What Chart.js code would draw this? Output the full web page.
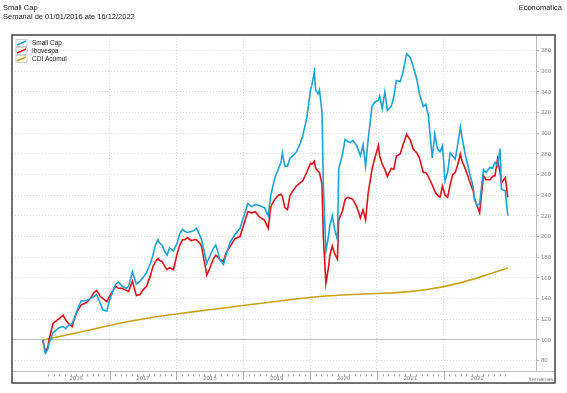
<!DOCTYPE html>
<html>
<head>
<meta charset="utf-8">
<script src="https://cdn.jsdelivr.net/npm/chart.js@4.4.0/dist/chart.umd.min.js"></script>
<style>
  html, body { margin: 0; padding: 0; background: #fff; }
  #wrap { width: 567px; height: 393px; }
</style>
</head>
<body>
<div id="wrap"><canvas id="myChart" width="567" height="393"></canvas></div>
<script>
// semanas desde 01/01/2016
const weeks = [0, 2, 4, 5, 8, 11, 13, 16, 18, 20, 23, 25, 27, 30, 34, 37, 40, 42, 45, 47, 50,
  52, 55, 57, 59, 62, 65, 67, 70, 73, 76, 78, 81, 84, 86, 88, 90, 91, 93, 95, 97, 99, 102,
  105, 107, 109, 111, 113, 116, 118, 120, 123, 124, 127, 128, 130, 133, 135, 137, 138, 141, 143, 146, 150, 154,
  157, 160, 163, 166, 169, 173, 176, 178, 181, 184, 186, 187, 189, 191, 193, 195, 198, 201, 203, 206,
  209, 210, 212, 213, 215, 216, 218, 219, 221, 223, 224, 226, 228, 230, 231, 234, 236, 238, 240, 242,
  245, 248, 250, 252, 254, 257, 259, 262, 263, 265, 267, 269, 272, 274, 276, 279, 281, 284, 287, 289,
  292, 294, 297, 299, 301, 304, 306, 308, 310, 312, 314, 316, 318, 320, 322, 324, 326, 327, 330, 332,
  333, 336, 337, 339, 341, 344, 346, 349, 351, 353, 355, 357, 358, 361, 363];

const smallCap = [100, 87, 91, 97, 107, 110, 112, 113, 111, 114, 116, 122, 129, 138, 138, 140, 142, 144, 135, 129, 128,
  138, 148, 154, 156, 152, 150, 152, 166, 154, 157, 160, 165, 174, 182, 192, 197, 194, 192, 186, 182, 189, 186,
  194, 203, 207, 205, 204, 205, 206, 208, 200, 197, 180, 174, 180, 188, 192, 184, 178, 173, 182, 194, 202, 208,
  220, 232, 229, 231, 230, 228, 220, 240, 256, 266, 272, 281, 268, 268, 276, 278, 282, 290, 298, 314,
  342, 346, 359, 342, 338, 342, 320, 250, 186, 200, 210, 220, 206, 197, 265, 280, 294, 292, 291, 293,
  288, 278, 289, 268, 294, 326, 330, 332, 336, 324, 340, 322, 326, 335, 351, 350, 358, 377, 373, 365,
  352, 338, 326, 328, 317, 276, 299, 285, 282, 288, 254, 262, 281, 278, 275, 290, 306, 298, 278, 268,
  262, 248, 236, 230, 232, 265, 262, 267, 266, 272, 268, 285, 246, 244, 220];

const ibovespa = [100, 89, 93, 101, 116, 119, 121, 124, 119, 116, 113, 122, 128, 134, 136, 140, 146, 148, 142, 140, 137,
  142, 148, 152, 150, 150, 148, 147, 157, 143, 144, 148, 152, 162, 171, 176, 179, 177, 176, 172, 168, 170, 168,
  184, 192, 197, 197, 199, 196, 197, 197, 193, 190, 170, 163, 168, 178, 182, 180, 178, 176, 184, 190, 198, 200,
  212, 224, 223, 224, 219, 216, 208, 229, 236, 240, 241, 239, 228, 226, 240, 244, 249, 252, 254, 262,
  271, 270, 273, 266, 263, 262, 250, 200, 155, 170, 181, 191, 183, 178, 216, 225, 236, 238, 237, 236,
  229, 218, 226, 216, 242, 265, 275, 288, 278, 270, 265, 258, 266, 265, 278, 280, 288, 299, 293, 285,
  281, 276, 262, 262, 258, 250, 244, 240, 238, 249, 240, 238, 250, 260, 262, 270, 280, 274, 265, 258,
  254, 244, 236, 230, 223, 259, 255, 255, 258, 259, 275, 262, 252, 257, 238];

const cdiWeeks = [0, 13, 26, 39, 52, 65, 78, 91, 104, 117, 130, 143, 156, 169, 182, 195, 208,
  221, 234, 247, 260, 273, 286, 299, 312, 325, 338, 351, 363];
const cdiAcumul = [100, 103.3, 106.7, 110.3, 114.0, 117.4, 120.3, 122.9, 125.2, 127.2, 129.2, 131.2, 133.3,
  135.3, 137.3, 139.3, 141.1, 142.5, 143.5, 144.2, 144.9, 145.6, 146.8, 148.6, 151.4, 155.0, 159.6, 164.7, 169.6];

const years = ['2016', '2017', '2018', '2019', '2020', '2021', '2022'];
const yTicks = [80, 100, 120, 140, 160, 180, 200, 220, 240, 260, 280, 300, 320, 340, 360, 380];

const WPY = 365.25 / 7;
const FONT = "'Liberation Sans', Arial, sans-serif";

function isBoundary(v) {
  const r = v / WPY;
  return Math.abs(r - Math.round(r)) < 0.01;
}

const decoPlugin = {
  id: 'deco',
  afterDraw(chart) {
    const ctx = chart.ctx;
    const xs = chart.scales.x;
    const area = chart.chartArea;
    ctx.save();
    // baseline continues under the y labels
    ctx.strokeStyle = '#bbb';
    ctx.lineWidth = 1;
    ctx.beginPath();
    ctx.moveTo(area.right, Math.round(area.bottom) + 0.5);
    ctx.lineTo(555, Math.round(area.bottom) + 0.5);
    ctx.stroke();
    // month ticks + year separators
    ctx.strokeStyle = '#999';
    ctx.lineWidth = 0.8;
    for (let k = 1; k < years.length * 12; k++) {
      const px = Math.round(xs.getPixelForValue(k * WPY / 12)) + 0.5;
      ctx.beginPath();
      if (k % 12 === 0) {
        ctx.moveTo(px, area.bottom);
        ctx.lineTo(px, area.bottom + 9);
      } else {
        ctx.moveTo(px, area.bottom + 3);
        ctx.lineTo(px, area.bottom + 5.5);
      }
      ctx.stroke();
    }
    // outer frame
    ctx.strokeStyle = '#444';
    ctx.lineWidth = 1.5;
    ctx.strokeRect(12, 35, 543, 348);

    // texts
    ctx.fillStyle = '#222';
    ctx.font = '7.5px ' + FONT;
    ctx.textBaseline = 'middle';
    ctx.textAlign = 'left';
    ctx.fillText('Small Cap', 3, 8);
    ctx.fillText('Semanal de 01/01/2016 ate 16/12/2022', 3, 17);
    ctx.textAlign = 'right';
    ctx.fillText('Economatica', 562, 8);

    ctx.fillStyle = '#888';
    ctx.font = '6px ' + FONT;
    ctx.fillText('semanas', 553, 379);

    // legend
    ctx.textAlign = 'left';
    chart.data.datasets.forEach((ds, i) => {
      const yc = 43 + i * 8;
      ctx.fillStyle = '#fff';
      ctx.fillRect(16, yc - 3.5, 11, 7);
      ctx.strokeStyle = '#bbb';
      ctx.lineWidth = 0.7;
      ctx.strokeRect(16, yc - 3.5, 11, 7);
      ctx.strokeStyle = ds.borderColor;
      ctx.lineWidth = 1.5;
      ctx.beginPath();
      ctx.moveTo(17, yc + 2);
      ctx.lineTo(26, yc - 2);
      ctx.stroke();
      ctx.fillStyle = '#222';
      ctx.font = '6.5px ' + FONT;
      ctx.fillText(ds.label, 32, yc);
    });
    ctx.restore();
  }
};

document.addEventListener('DOMContentLoaded', function() {
  const ctxLine = document.getElementById('myChart').getContext('2d');
  new Chart(ctxLine, {
    type: 'line',
    data: {
      datasets: [{
        label: 'Small Cap',
        data: weeks.map((w, i) => ({ x: w, y: smallCap[i] })),
        borderColor: '#1ca3d6',
        borderWidth: 1.6
      }, {
        label: 'Ibovespa',
        data: weeks.map((w, i) => ({ x: w, y: ibovespa[i] })),
        borderColor: '#e3121a',
        borderWidth: 1.6
      }, {
        label: 'CDI Acumul',
        data: cdiWeeks.map((w, i) => ({ x: w, y: cdiAcumul[i] })),
        borderColor: '#c9a217',
        borderWidth: 1.6
      }]
    },
    options: {
      responsive: false,
      animation: false,
      events: [],
      elements: { point: { radius: 0 }, line: { tension: 0 } },
      layout: { padding: { left: 12, top: 35, right: 12, bottom: 10 } },
      plugins: { legend: { display: false }, tooltip: { enabled: false } },
      scales: {
        x: {
          type: 'linear',
          min: -24,
          max: 385,
          afterBuildTicks: function(scale) {
            const t = [];
            for (let i = 0; i < years.length; i++) {
              if (i > 0) t.push({ value: i * WPY });
              t.push({ value: (i + 0.5) * WPY });
            }
            scale.ticks = t;
          },
          afterFit: function(scale) { scale.height = 12; },
          ticks: {
            autoSkip: false,
            maxRotation: 0,
            padding: 4,
            color: '#888',
            font: { size: 6, family: FONT }
            ,
            callback: function(value) {
              return isBoundary(value) ? '' : years[Math.floor(value / WPY)];
            }
          },
          grid: {
            drawTicks: false,
            color: (c) => (c.tick && isBoundary(c.tick.value)) ? '#dadada' : 'rgba(0,0,0,0)',
            lineWidth: 1
          },
          border: { display: true, color: '#bbb', width: 1, dash: [1, 2] }
        },
        y: {
          position: 'right',
          min: 70,
          max: 395,
          afterBuildTicks: function(scale) {
            scale.ticks = yTicks.map(v => ({ value: v }));
          },
          afterFit: function(scale) { scale.width = 19; },
          ticks: {
            padding: 2,
            color: '#888',
            font: { size: 6, family: FONT }
          },
          grid: {
            tickLength: 3,
            tickColor: '#bbb',
            color: (c) => (c.tick && c.tick.value === 100) ? '#bbb' : '#dadada',
            lineWidth: 1
          },
          border: {
            display: true,
            color: '#bbb',
            width: 1,
            dash: (c) => (c.tick && c.tick.value === 100) ? [] : [1, 2]
          }
        }
      }
    },
    plugins: [decoPlugin]
  });
});
</script>
</body>
</html>
